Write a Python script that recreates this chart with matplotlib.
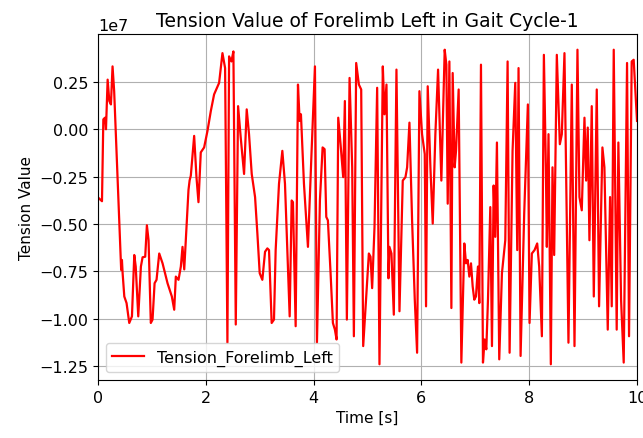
import matplotlib
matplotlib.use("Agg")
import matplotlib.pyplot as plt

time_s = [
    0.0, 0.074, 0.099, 0.13, 0.148, 0.179, 0.21, 0.24, 0.27, 0.30,
    0.43, 0.444, 0.457, 0.488, 0.53, 0.58, 0.63, 0.673, 0.70, 0.747,
    0.796, 0.827, 0.876, 0.907, 0.938, 0.98, 1.012, 1.05, 1.086, 1.136,
    1.198, 1.29, 1.37, 1.414, 1.444, 1.494, 1.537, 1.568, 1.60, 1.679,
    1.70, 1.722, 1.784, 1.827, 1.864, 1.907, 1.969, 2.031, 2.093, 2.154,
    2.247, 2.309, 2.358, 2.401, 2.432, 2.475, 2.512, 2.556, 2.599, 2.648,
    2.710, 2.759, 2.802, 2.852, 2.914, 2.957, 3.0, 3.049, 3.099, 3.142,
    3.173, 3.222, 3.265, 3.296, 3.358, 3.420, 3.469, 3.512, 3.556, 3.593,
    3.617, 3.667, 3.710, 3.741, 3.765, 3.821, 3.895, 3.963, 4.025, 4.062,
    4.117, 4.167, 4.204, 4.235, 4.265, 4.315, 4.358, 4.395, 4.426, 4.457,
    4.500, 4.549, 4.580, 4.617, 4.667, 4.716, 4.747, 4.790, 4.840, 4.883,
    4.920, 5.025, 5.056, 5.086, 5.130, 5.179, 5.222, 5.284, 5.315, 5.352,
    5.389, 5.407, 5.444, 5.488, 5.537, 5.593, 5.654, 5.704, 5.735, 5.778,
    5.827, 5.877, 5.920, 5.963, 6.012, 6.062, 6.086, 6.117, 6.167, 6.210,
    6.259, 6.309, 6.370, 6.432, 6.463, 6.488, 6.519, 6.556, 6.580, 6.617,
    6.642, 6.691, 6.741, 6.796, 6.827, 6.858, 6.889, 6.920, 6.951, 6.981,
    7.012, 7.049, 7.074, 7.105, 7.142, 7.173, 7.204, 7.235, 7.278, 7.309,
    7.340, 7.370, 7.401, 7.444, 7.494, 7.556, 7.599, 7.636, 7.691, 7.741,
    7.778, 7.802, 7.840, 7.907, 7.975, 8.006, 8.049, 8.099, 8.148, 8.185,
    8.235, 8.272, 8.309, 8.327, 8.358, 8.401, 8.432, 8.463, 8.512, 8.568,
    8.605, 8.654, 8.728, 8.790, 8.840, 8.895, 8.932, 8.975, 9.025, 9.056,
    9.086, 9.117, 9.160, 9.198, 9.253, 9.296, 9.358, 9.395, 9.457, 9.500,
    9.531, 9.568, 9.623, 9.654, 9.704, 9.753, 9.815, 9.852, 9.901, 9.938,
    10.0,
]

tension_1e7 = [
    -0.36, -0.38, 0.052, 0.061, 0.0, 0.262, 0.149, 0.131, 0.332, 0.201,
    -0.743, -0.69, -0.76, -0.883, -0.918, -1.023, -0.988, -0.664, -0.725, -0.988,
    -0.725, -0.676, -0.673, -0.507, -0.586, -1.023, -1.005, -0.813, -0.795, -0.656,
    -0.708, -0.813, -0.883, -0.953, -0.778, -0.795, -0.725, -0.621, -0.74, -0.32,
    -0.27, -0.245, -0.035, -0.253, -0.385, -0.122, -0.096, -0.009, 0.096, 0.184,
    0.245, 0.402, 0.323, -1.127, 0.385, 0.358, 0.411, -1.031, 0.122, -0.044,
    -0.236, 0.105, -0.026, -0.236, -0.358, -0.551, -0.760, -0.795, -0.647, -0.629,
    -0.638, -1.023, -1.005, -0.638, -0.288, -0.114, -0.288, -0.638, -0.988, -0.376,
    -0.385, -1.040, 0.236, 0.044, 0.079, -0.288, -0.621, -0.114, 0.332, -1.127,
    -0.376, -0.096, -0.105, -0.463, -0.481, -0.760, -1.023, -1.058, -1.110, 0.061,
    -0.079, -0.253, 0.149, -1.005, 0.271, -0.201, -1.093, 0.350, 0.236, 0.210,
    -1.145, -0.656, -0.673, -0.839, -0.516, 0.219, -1.241, 0.332, 0.079, 0.236,
    -0.787, -0.621, -0.656, -0.979, 0.315, -0.961, -0.271, -0.253, -0.201, 0.035,
    -0.481, -0.900, -1.180, 0.201, -0.026, -0.131, -0.935, 0.227, -0.201, -0.498,
    -0.026, 0.315, -0.271, 0.420, 0.341, -0.393, 0.358, -0.944, 0.297, -0.201,
    -0.114, 0.210, -1.232, -0.603, -0.708, -0.690, -0.778, -0.708, -0.830, -0.900,
    -0.883, -0.725, -0.918, 0.341, -1.232, -1.110, -1.162, -0.900, -0.411, -1.145,
    -0.297, -0.568, -0.070, -1.215, -0.760, -0.586, 0.358, -1.180, -0.114, 0.245,
    -0.638, 0.323, -1.197, -0.446, 0.131, -1.023, -0.656, -0.638, -0.603, -0.725,
    -1.093, 0.393, -0.201, -0.621, -0.026, -1.241, -0.201, -0.664, 0.393, -0.079,
    -0.026, 0.402, -1.127, 0.236, -1.145, 0.420, -0.358, -0.428, 0.061, -0.271,
    0.009, -0.586, 0.122, -0.883, 0.210, -0.935, -0.096, -0.201, -1.058, -0.358,
    -0.935, 0.420, -1.058, -0.070, -0.900, -1.232, 0.350, -1.093, 0.358, 0.367,
    0.044,
]

tension = [v * 1e7 for v in tension_1e7]

fig = plt.figure(figsize=(6.43, 4.39), dpi=100)
ax = fig.add_axes([0.1524, 0.1321, 0.8383, 0.7882])
ax.plot(time_s, tension, color="red", linewidth=1.6, label="Tension_Forelimb_Left")
ax.set_xlim(0, 10)
ax.set_xticks([0, 2, 4, 6, 8, 10])
ax.set_yticks([-1.25e7, -1.0e7, -0.75e7, -0.5e7, -0.25e7, 0, 0.25e7])
ax.grid(True)
ax.set_title("Tension Value of Forelimb Left in Gait Cycle-1", fontsize=13.5)
ax.set_xlabel("Time [s]", fontsize=11)
ax.set_ylabel("Tension Value", fontsize=11)
ax.tick_params(labelsize=11.5)
ax.yaxis.get_offset_text().set_fontsize(11.5)
ax.legend(loc="lower left", fontsize=11.5)
fig.savefig("out.png", dpi=100)
